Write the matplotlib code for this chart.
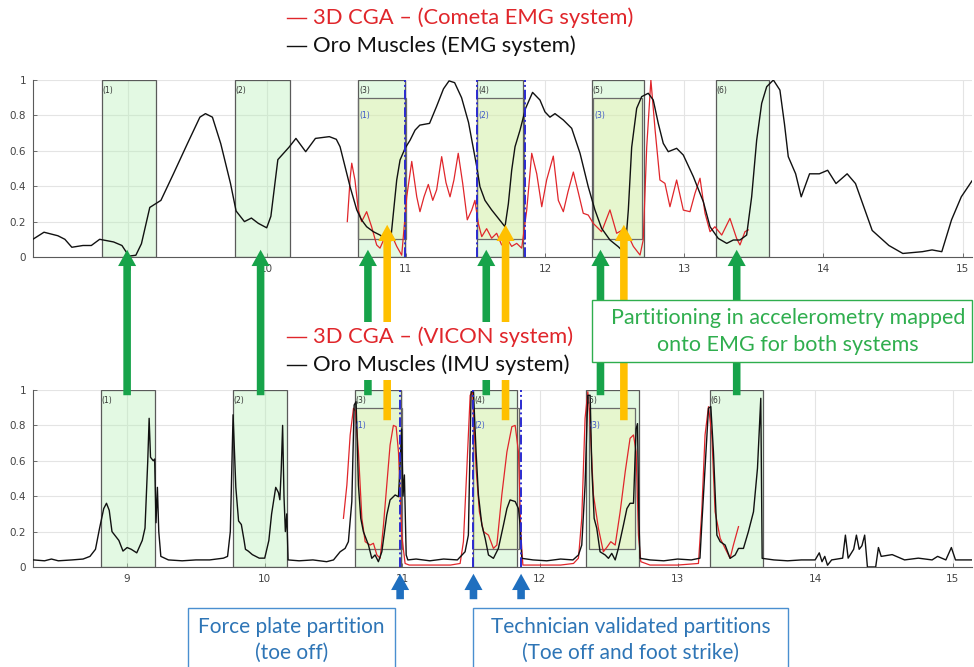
import numpy as np
import matplotlib.pyplot as plt
from matplotlib.patches import Rectangle, FancyArrowPatch, ArrowStyle
from matplotlib.lines import Line2D
import matplotlib.transforms as mtransforms

# ---- data ----
# top panel: Oro Muscles (EMG system), black
top_oro_x = [8.32, 8.40, 8.50, 8.55, 8.60, 8.68, 8.74, 8.80, 8.90, 8.96, 9.01, 9.06, 9.10, 9.16,
             9.24, 9.33, 9.43, 9.52, 9.56, 9.61, 9.67, 9.74, 9.78, 9.84, 9.89, 9.94, 10.00, 10.03,
             10.08, 10.16, 10.21, 10.28, 10.35, 10.45, 10.50, 10.527, 10.563, 10.599, 10.647,
             10.682, 10.718, 10.766, 10.814, 10.862, 10.89, 10.91, 10.934, 10.958, 10.994, 11.03,
             11.066, 11.10, 11.17, 11.22, 11.27, 11.31, 11.35, 11.40, 11.45, 11.509, 11.532,
             11.568, 11.616, 11.664, 11.712, 11.736, 11.76, 11.784, 11.82, 11.86, 11.91, 11.963,
             11.999, 12.035, 12.071, 12.131, 12.191, 12.251, 12.31, 12.358, 12.406, 12.466,
             12.526, 12.574, 12.598, 12.622, 12.658, 12.694, 12.741, 12.777, 12.813, 12.849,
             12.885, 12.945, 12.993, 13.065, 13.137, 13.185, 13.244, 13.305, 13.352, 13.40,
             13.448, 13.484, 13.52, 13.556, 13.592, 13.64, 13.687, 13.72, 13.747, 13.80, 13.84,
             13.90, 13.97, 14.03, 14.09, 14.17, 14.23, 14.35, 14.47, 14.57, 14.71, 14.78, 14.85,
             14.92, 14.99, 15.067]
top_oro_y = [0.10, 0.14, 0.12, 0.10, 0.055, 0.065, 0.065, 0.10, 0.085, 0.065, 0.005, 0.01, 0.075, 0.28,
             0.32, 0.47, 0.64, 0.79, 0.81, 0.79, 0.64, 0.415, 0.26, 0.20, 0.22, 0.19, 0.165, 0.23,
             0.55, 0.62, 0.67, 0.595, 0.67, 0.68, 0.665, 0.623, 0.51, 0.397, 0.266,
             0.209, 0.171, 0.143, 0.124, 0.096, 0.09, 0.247, 0.435, 0.548, 0.614, 0.66,
             0.717, 0.745, 0.755, 0.85, 0.95, 0.995, 0.985, 0.90, 0.76, 0.51, 0.397,
             0.32, 0.266, 0.219, 0.171, 0.30, 0.49, 0.623, 0.717, 0.84, 0.93, 0.887,
             0.82, 0.79, 0.81, 0.774, 0.727, 0.586, 0.397, 0.266, 0.162, 0.096,
             0.058, 0.021, 0.266, 0.62, 0.84, 0.906, 0.925, 0.887, 0.755, 0.642,
             0.595, 0.614, 0.576, 0.454, 0.312, 0.171, 0.105, 0.077, 0.096, 0.096,
             0.124, 0.34, 0.66, 0.868, 0.962, 1.0, 0.943, 0.75, 0.567, 0.47, 0.34,
             0.47, 0.47, 0.49, 0.415, 0.47, 0.415, 0.15, 0.065, 0.02, 0.03, 0.04, 0.03,
             0.21, 0.34, 0.43]

# top panel: 3D CGA (Cometa EMG system), red
top_cga_x = [10.579, 10.60, 10.611, 10.634, 10.658, 10.682, 10.718, 10.754, 10.790, 10.814, 10.850,
             10.886, 10.934, 10.970, 11.006, 11.042, 11.078, 11.101, 11.130, 11.161, 11.193, 11.221,
             11.257, 11.288, 11.317, 11.345, 11.376, 11.408, 11.441, 11.473, 11.496, 11.520, 11.545,
             11.580, 11.616, 11.652, 11.688, 11.724, 11.760, 11.796, 11.832, 11.868, 11.904, 11.940,
             11.976, 12.011, 12.059, 12.095, 12.131, 12.165, 12.203, 12.24, 12.274, 12.31, 12.346,
             12.406, 12.466, 12.514, 12.574, 12.634, 12.682, 12.705, 12.73, 12.76, 12.79, 12.825,
             12.861, 12.897, 12.945, 12.993, 13.041, 13.077, 13.113, 13.149, 13.185, 13.22, 13.269,
             13.328, 13.376, 13.40, 13.436, 13.46]
top_cga_y = [0.20, 0.45, 0.53, 0.435, 0.265, 0.20, 0.256, 0.17, 0.068, 0.05, 0.115,
             0.145, 0.06, 0.01, 0.34, 0.54, 0.34, 0.256, 0.34, 0.41, 0.32, 0.38,
             0.567, 0.42, 0.34, 0.435, 0.586, 0.416, 0.21, 0.265, 0.32, 0.19, 0.115,
             0.16, 0.106, 0.134, 0.068, 0.106, 0.06, 0.077, 0.05, 0.265, 0.586, 0.47,
             0.284, 0.435, 0.57, 0.32, 0.256, 0.37, 0.48, 0.36, 0.247, 0.237, 0.19,
             0.143, 0.266, 0.134, 0.16, 0.06, 0.011, 0.096, 0.62, 1.0, 0.72, 0.435,
             0.416, 0.284, 0.435, 0.265, 0.256, 0.36, 0.445, 0.247, 0.143, 0.171, 0.124,
             0.218, 0.105, 0.068, 0.143, 0.153]

# bottom panel: Oro Muscles (IMU system), black
bot_oro_x = [8.32, 8.40, 8.45, 8.50, 8.60, 8.68, 8.73, 8.77, 8.80, 8.83, 8.85, 8.87, 8.89, 8.92,
             8.94, 8.97, 9.00, 9.03, 9.07, 9.11, 9.13, 9.15, 9.16, 9.17, 9.19, 9.20, 9.21, 9.22,
             9.23, 9.245, 9.30, 9.40, 9.50, 9.60, 9.70, 9.73, 9.75, 9.77, 9.79, 9.81, 9.83, 9.85,
             9.86, 9.88, 9.91, 9.96, 10.00, 10.03, 10.05, 10.08, 10.10, 10.11, 10.12, 10.13, 10.14,
             10.15, 10.16, 10.17, 10.25, 10.35, 10.45, 10.50,
             10.548, 10.584, 10.608, 10.633, 10.65, 10.664, 10.681, 10.698, 10.717, 10.754, 10.778,
             10.802, 10.826, 10.851, 10.887, 10.911, 10.948, 10.972, 10.985, 10.995, 11.005, 11.015,
             11.028, 11.04, 11.10, 11.20, 11.30, 11.40, 11.456, 11.48, 11.50, 11.517, 11.536, 11.553,
             11.578, 11.602, 11.626, 11.662, 11.698, 11.735, 11.76, 11.783, 11.82, 11.844, 11.856,
             11.868, 11.95, 12.05, 12.15, 12.24, 12.28, 12.304, 12.328, 12.348, 12.365, 12.377,
             12.394, 12.413, 12.437, 12.474, 12.498, 12.522, 12.547, 12.57, 12.607, 12.632, 12.655,
             12.68, 12.699, 12.709, 12.719, 12.728, 12.80, 12.90, 13.00, 13.10, 13.163, 13.176,
             13.20, 13.225, 13.242, 13.261, 13.286, 13.31, 13.346, 13.382, 13.419, 13.443, 13.479,
             13.515, 13.552, 13.581, 13.605, 13.615,
             13.70, 13.80, 13.90, 14.00, 14.03, 14.05, 14.07, 14.09, 14.12, 14.20, 14.22, 14.24,
             14.28, 14.30, 14.32, 14.34, 14.36, 14.38, 14.44, 14.46, 14.48, 14.56, 14.65, 14.75,
             14.85, 14.89, 14.95, 14.99, 15.02, 15.14]
bot_oro_y = [0.04, 0.035, 0.045, 0.035, 0.04, 0.045, 0.06, 0.10, 0.22, 0.33, 0.36, 0.32, 0.20, 0.17,
             0.15, 0.09, 0.11, 0.10, 0.08, 0.15, 0.22, 0.60, 0.84, 0.62, 0.60, 0.61, 0.25, 0.45,
             0.20, 0.06, 0.04, 0.035, 0.04, 0.04, 0.05, 0.06, 0.20, 0.86, 0.45, 0.26, 0.24, 0.15,
             0.10, 0.09, 0.07, 0.05, 0.05, 0.15, 0.30, 0.45, 0.42, 0.38, 0.55, 0.80, 0.40,
             0.20, 0.30, 0.04, 0.035, 0.04, 0.03, 0.04,
             0.086, 0.105, 0.143, 0.37, 0.915, 0.934, 0.463, 0.275, 0.20, 0.124, 0.049,
             0.068, 0.03, 0.086, 0.294, 0.379, 0.407, 0.397, 0.60, 0.78, 0.40, 0.52,
             0.068, 0.04, 0.045, 0.035, 0.045, 0.04, 0.086, 0.18, 0.99, 0.99, 0.65, 0.407,
             0.237, 0.162, 0.068, 0.049, 0.105, 0.237, 0.33, 0.379, 0.37, 0.33, 0.237,
             0.049, 0.04, 0.035, 0.045, 0.04, 0.068, 0.124, 0.463, 0.97, 0.97, 0.558,
             0.275, 0.219, 0.086, 0.068, 0.049, 0.077, 0.04, 0.105, 0.237, 0.33, 0.36,
             0.36, 0.78, 0.81, 0.275, 0.049, 0.04, 0.035, 0.045, 0.04, 0.05, 0.237,
             0.558, 0.897, 0.906, 0.65, 0.18, 0.143, 0.124, 0.049, 0.068, 0.105, 0.105,
             0.20, 0.312, 0.558, 0.953, 0.049,
             0.04, 0.035, 0.04, 0.04, 0.08, 0.03, 0.06, 0.01, 0.04, 0.05, 0.18, 0.05,
             0.10, 0.18, 0.10, 0.12, 0.18, 0.0, 0.0, 0.11, 0.06, 0.07, 0.04, 0.05,
             0.04, 0.06, 0.04, 0.11, 0.04, 0.04]

# bottom panel: 3D CGA (VICON system), red
bot_cga_x = [10.572, 10.597, 10.621, 10.645, 10.66, 10.681, 10.706, 10.73, 10.766, 10.79, 10.815,
             10.839, 10.863, 10.887, 10.911, 10.935, 10.955, 10.972, 10.996, 11.02, 11.05, 11.20,
             11.35, 11.42, 11.444, 11.469, 11.493, 11.51, 11.536, 11.56, 11.59, 11.626, 11.662,
             11.687, 11.723, 11.76, 11.796, 11.82, 11.844, 11.862, 11.876, 12.0, 12.15, 12.244,
             12.28, 12.304, 12.328, 12.348, 12.36, 12.389, 12.425, 12.461, 12.49, 12.515, 12.547,
             12.583, 12.62, 12.655, 12.68, 12.699, 12.716, 12.733, 12.80, 13.00, 13.152, 13.176,
             13.20, 13.225, 13.249, 13.273, 13.31, 13.346, 13.382, 13.406, 13.443]
bot_cga_y = [0.275, 0.463, 0.746, 0.897, 0.88, 0.65, 0.275, 0.143, 0.124, 0.134, 0.068,
             0.049, 0.237, 0.463, 0.689, 0.80, 0.793, 0.65, 0.18, 0.02, 0.011, 0.011,
             0.011, 0.02, 0.143, 0.558, 0.97, 0.99, 0.558, 0.312, 0.20, 0.18, 0.105,
             0.124, 0.407, 0.65, 0.793, 0.80, 0.65, 0.18, 0.011, 0.011, 0.011, 0.02,
             0.05, 0.275, 0.84, 0.99, 0.877, 0.407, 0.219, 0.086, 0.115, 0.143, 0.124,
             0.312, 0.539, 0.727, 0.746, 0.65, 0.18, 0.03, 0.011, 0.011, 0.02, 0.312,
             0.746, 0.906, 0.746, 0.312, 0.162, 0.105, 0.049, 0.124, 0.228]

# partitions (accelerometry) and inner (force plate / technician) windows
top_part_start = [8.817, 9.772, 10.658, 11.513, 12.335, 13.226]
top_part_end = [9.205, 10.167, 10.994, 11.839, 12.71, 13.61]
top_inner_start = [10.658, 11.513, 12.346]
top_inner_end = [11.0, 11.845, 12.694]
top_valid = [10.99, 11.513, 11.856]

bot_part_start = [8.81, 9.77, 10.657, 11.517, 12.336, 13.237]
bot_part_end = [9.20, 10.16, 10.989, 11.832, 12.723, 13.62]
bot_inner_start = [10.657, 11.517, 12.353]
bot_inner_end = [10.995, 11.845, 12.692]
bot_valid = [10.984, 11.517, 11.863]

green_arrow_x = [9.00, 9.97, 10.75, 11.61, 12.44, 13.43]
orange_arrow_x = [10.89, 11.75, 12.61]

W, H = 974, 667
fig = plt.figure(figsize=(W / 100, H / 100), dpi=100)


def fx(px):
    return px / W


def fy(py):
    return 1 - py / H


ax_top = fig.add_axes([fx(33), fy(257), fx(972) - fx(33), fy(80) - fy(257)])
ax_bot = fig.add_axes([fx(33), fy(567), fx(972) - fx(33), fy(390) - fy(567)])


def panel(ax, xlim, starts, ends, istarts, iends, valid, ox, oy, cx, cy):
    ax.set_xlim(*xlim)
    ax.set_ylim(0, 1)
    ax.set_xticks([9, 10, 11, 12, 13, 14, 15])
    ax.set_yticks([0, 0.2, 0.4, 0.6, 0.8, 1])
    ax.set_yticklabels(['0', '0.2', '0.4', '0.6', '0.8', '1'])
    ax.grid(True, color='#e4e4e4', lw=0.8)
    ax.set_axisbelow(True)
    for s in ['top', 'right']:
        ax.spines[s].set_visible(False)
    for s in ['left', 'bottom']:
        ax.spines[s].set_color('#5a5a5a')
        ax.spines[s].set_linewidth(0.8)
    ax.tick_params(direction='in', length=3, width=0.6, colors='#5a5a5a',
                   labelsize=7.5, labelcolor='#444444', pad=5)
    for i, (a, b) in enumerate(zip(starts, ends)):
        ax.add_patch(Rectangle((a, 0), b - a, 1, facecolor='#b9f0b9', alpha=0.4,
                               edgecolor='none', zorder=1))
        ax.add_patch(Rectangle((a, 0), b - a, 1, facecolor='none',
                               edgecolor='#5a5a5a', lw=0.9, zorder=2))
        ax.text(a + 0.005, 0.965, '(%d)' % (i + 1), fontsize=5.5, color='#333333',
                va='top', ha='left', zorder=5)
    for i, (a, b) in enumerate(zip(istarts, iends)):
        ax.add_patch(Rectangle((a, 0.1), b - a, 0.8, facecolor='#f0f0a0', alpha=0.3,
                               edgecolor='none', zorder=1))
        ax.add_patch(Rectangle((a, 0.1), b - a, 0.8, facecolor='none',
                               edgecolor='#6b6b6b', lw=0.9, zorder=2))
        ax.text(a + 0.005, 0.8, '(%d)' % (i + 1), fontsize=5.5, color='#3a55c8',
                va='center', ha='left', zorder=5)
    for v in valid:
        ax.axvline(v, color='#2b2bd0', lw=1.4, ls=(0, (5, 1.5, 1, 1.5)), zorder=4)
    ax.plot(cx, cy, color='#e0262b', lw=0.9, zorder=3)
    ax.plot(ox, oy, color='#111111', lw=1.0, zorder=3)


panel(ax_top, (8.321, 15.067), top_part_start, top_part_end, top_inner_start, top_inner_end,
      top_valid, top_oro_x, top_oro_y, top_cga_x, top_cga_y)
panel(ax_bot, (8.316, 15.14), bot_part_start, bot_part_end, bot_inner_start, bot_inner_end,
      bot_valid, bot_oro_x, bot_oro_y, bot_cga_x, bot_cga_y)

# arrows linking the panels (x from bottom data, y in figure)
tr = mtransforms.blended_transform_factory(ax_bot.transData, fig.transFigure)
style = ArrowStyle.Simple(head_length=0.9, head_width=1.0, tail_width=0.42)
for x in green_arrow_x:
    fig.add_artist(FancyArrowPatch((x, fy(398)), (x, fy(247)), transform=tr,
                                   arrowstyle=style, mutation_scale=13,
                                   color='#17a34a', lw=0, zorder=10))
for x in orange_arrow_x:
    fig.add_artist(FancyArrowPatch((x, fy(423)), (x, fy(222)), transform=tr,
                                   arrowstyle=style, mutation_scale=13,
                                   color='#ffc000', lw=0, zorder=10))
for x in bot_valid:
    fig.add_artist(FancyArrowPatch((x, fy(602)), (x, fy(571)), transform=tr,
                                   arrowstyle=style, mutation_scale=13,
                                   color='#1f6fbf', lw=0, zorder=10))

font = ['Lato', 'DejaVu Sans']

# legends
fig.add_artist(Rectangle((fx(283), fy(380)), fx(590) - fx(283), fy(322) - fy(380),
                         transform=fig.transFigure, facecolor='white', edgecolor='none', zorder=11))
legends = [(18, '3D CGA \u2013 (Cometa EMG system)', '#e0262b'),
           (46, 'Oro Muscles (EMG system)', '#111111'),
           (337, '3D CGA \u2013 (VICON system)', '#e0262b'),
           (365, 'Oro Muscles (IMU system)', '#111111')]
for py, txt, col in legends:
    fig.add_artist(Line2D([fx(287), fx(306)], [fy(py), fy(py)], color=col, lw=1.0,
                          transform=fig.transFigure, zorder=12))
    fig.text(fx(313), fy(py), txt, color=col, fontsize=15.8, family=font,
             va='center', ha='left', zorder=12)

# callout boxes
fig.add_artist(Rectangle((fx(592), fy(362)), fx(972) - fx(592), fy(300) - fy(362),
                         transform=fig.transFigure, facecolor='white', edgecolor='#2fae4e',
                         lw=1.0, zorder=11))
fig.text(fx(788), fy(318), 'Partitioning in accelerometry mapped', color='#2fae4e',
         fontsize=15.5, family=font, ha='center', va='center', zorder=12)
fig.text(fx(788), fy(345), 'onto EMG for both systems', color='#2fae4e',
         fontsize=15.5, family=font, ha='center', va='center', zorder=12)

for x0, x1, l1, l2 in [(188, 395, 'Force plate partition', '(toe off)'),
                       (473, 788, 'Technician validated partitions', '(Toe off and foot strike)')]:
    fig.add_artist(Rectangle((fx(x0), fy(675)), fx(x1) - fx(x0), fy(608) - fy(675),
                             transform=fig.transFigure, facecolor='white', edgecolor='#4a8fd0',
                             lw=1.0, zorder=11))
    xc = fx((x0 + x1) / 2)
    fig.text(xc, fy(627), l1, color='#2e75b6', fontsize=15, family=font,
             ha='center', va='center', zorder=12)
    fig.text(xc, fy(653), l2, color='#2e75b6', fontsize=15, family=font,
             ha='center', va='center', zorder=12)

fig.savefig('out.png', dpi=100)
